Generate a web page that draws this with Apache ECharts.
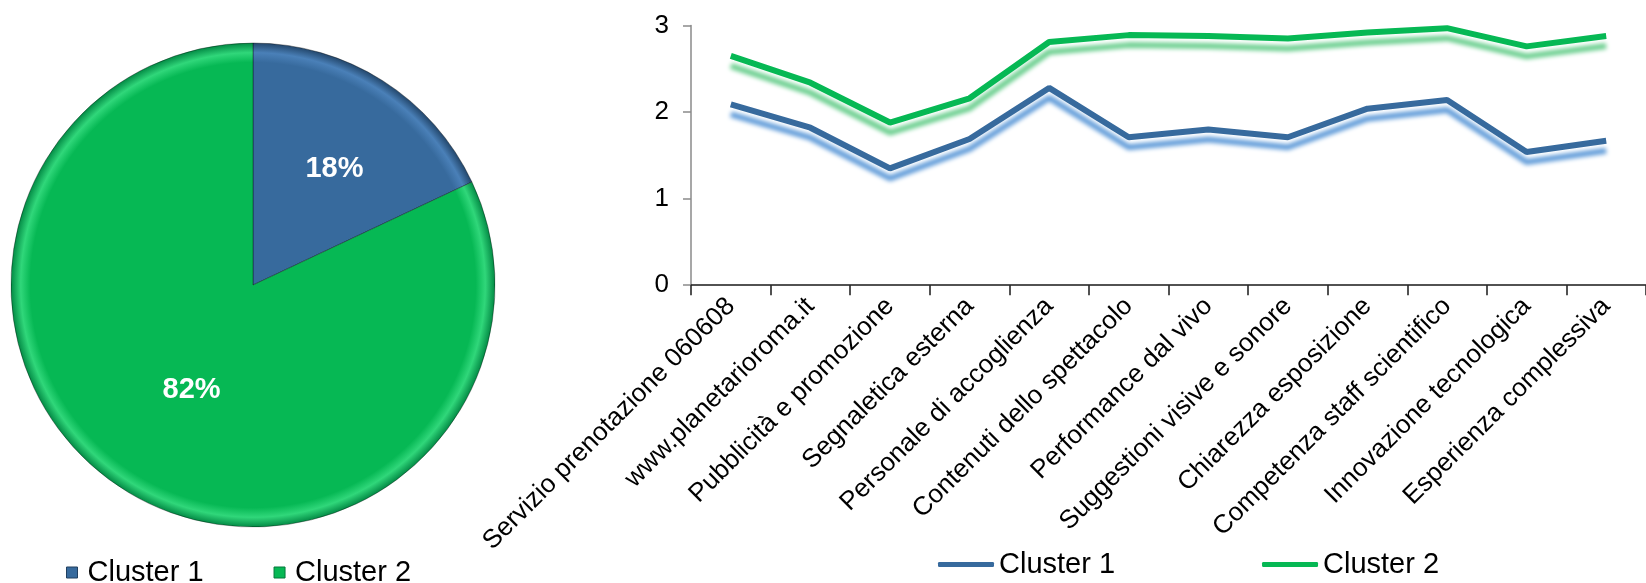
<!DOCTYPE html>
<html>
<head>
<meta charset="utf-8">
<script src="https://cdn.jsdelivr.net/npm/echarts@6/dist/echarts.min.js"></script>
<style>
  html, body { margin: 0; padding: 0; background: #fff; }
  #chart { width: 1646px; height: 583px; }
</style>
</head>
<body>
<div id="chart"></div>
<script>
// Cluster sizes (share of respondents)
const clusterNames = ['Cluster 1', 'Cluster 2'];
const clusterShares = [18, 82];

// Average scores per service aspect
const aspects = [
  'Servizio prenotazione 060608',
  'www.planetarioroma.it',
  'Pubblicità e promozione',
  'Segnaletica esterna',
  'Personale di accoglienza',
  'Contenuti dello spettacolo',
  'Performance dal vivo',
  'Suggestioni visive e sonore',
  'Chiarezza esposizione',
  'Competenza staff scientifico',
  'Innovazione tecnologica',
  'Esperienza complessiva'
];
const cluster1Scores = [2.09, 1.82, 1.35, 1.69, 2.28, 1.71, 1.80, 1.71, 2.04, 2.14, 1.54, 1.67];
const cluster2Scores = [2.65, 2.34, 1.88, 2.16, 2.81, 2.89, 2.88, 2.85, 2.92, 2.97, 2.76, 2.88];
const scoreTicks = { min: 0, max: 3, interval: 1 };

const FONT = '"Liberation Sans", Arial, sans-serif';
const BLUE = '#376A9D';
const GREEN = '#06B854';

const chart = echarts.init(document.getElementById('chart'), null, { renderer: 'canvas' });

// Pie geometry
const pieCenter = [253, 285];
const pieRadius = 242;

function bevel(base, light, dark) {
  return new echarts.graphic.RadialGradient(pieCenter[0], pieCenter[1], pieRadius, [
    { offset: 0, color: base },
    { offset: 0.92, color: base },
    { offset: 0.96, color: light },
    { offset: 1, color: dark }
  ], true);
}

const pieColors = [
  bevel(BLUE, '#4a80b8', '#23476c'),
  bevel(GREEN, '#30d77a', '#038a45')
];

chart.setOption({
  animation: false,
  backgroundColor: '#ffffff',
  textStyle: { fontFamily: FONT },
  legend: [
    {
      left: 66,
      top: 558,
      padding: 0,
      itemWidth: 11,
      itemHeight: 11,
      itemGap: 70,
      textStyle: { fontFamily: FONT, fontSize: 29, color: '#000', lineHeight: 29, padding: [0, 0, 0, 5] },
      data: [
        { name: clusterNames[0], icon: 'rect', itemStyle: { color: BLUE, borderColor: '#203f5f', borderWidth: 1 } },
        { name: clusterNames[1], icon: 'rect', itemStyle: { color: GREEN, borderColor: '#03783a', borderWidth: 1 } }
      ]
    },
    {
      left: 938,
      top: 550,
      padding: 0,
      itemWidth: 56,
      itemHeight: 5,
      itemGap: 147,
      textStyle: { fontFamily: FONT, fontSize: 29, color: '#000', lineHeight: 29 },
      data: [
        { name: clusterNames[0], icon: 'roundRect', itemStyle: { color: BLUE, shadowBlur: 0, shadowOffsetY: 0, borderWidth: 0 } },
        { name: clusterNames[1], icon: 'roundRect', itemStyle: { color: GREEN, shadowBlur: 0, shadowOffsetY: 0, borderWidth: 0 } }
      ]
    }
  ],
  grid: { left: 691, right: -10, top: 25.6, bottom: 297.8, containLabel: false },
  xAxis: {
    type: 'category',
    data: aspects,
    boundaryGap: true,
    axisLine: { lineStyle: { color: '#1a1a1a', width: 1.5 } },
    axisTick: { show: true, length: 10, lineStyle: { color: '#1a1a1a', width: 1.5 } },
    axisLabel: {
      interval: 0,
      rotate: 45,
      margin: 17,
      fontFamily: FONT,
      fontSize: 26,
      color: '#000'
    },
    splitLine: { show: false }
  },
  yAxis: {
    type: 'value',
    min: scoreTicks.min,
    max: scoreTicks.max,
    interval: scoreTicks.interval,
    axisLine: { show: true, lineStyle: { color: '#8a8a8a', width: 1.5 } },
    axisTick: { show: true, length: 8, lineStyle: { color: '#8a8a8a', width: 1.5 } },
    axisLabel: { margin: 22, fontFamily: FONT, fontSize: 26, color: '#000' },
    splitLine: { show: false }
  },
  series: [
    {
      type: 'pie',
      name: 'Cluster',
      center: pieCenter,
      radius: pieRadius,
      startAngle: 90,
      clockwise: true,
      silent: true,
      label: {
        show: true,
        position: 'inside',
        formatter: '{d}%',
        fontFamily: FONT,
        fontSize: 29,
        fontWeight: 'bold',
        color: '#fff'
      },
      labelLine: { show: false },
      itemStyle: { borderColor: 'rgba(0,0,0,0.35)', borderWidth: 1 },
      data: clusterNames.map((n, i) => ({
        name: n,
        value: clusterShares[i],
        itemStyle: { color: pieColors[i] },
        label: i === 0 ? { offset: [15, -11] } : { offset: [5, 0] }
      }))
    },
    {
      type: 'line',
      name: clusterNames[0],
      data: cluster1Scores,
      symbol: 'none',
      lineStyle: {
        color: BLUE,
        width: 6,
        shadowColor: 'rgba(100,158,218,1)',
        shadowBlur: 4,
        shadowOffsetY: 10
      },
      itemStyle: { color: BLUE }
    },
    {
      type: 'line',
      name: clusterNames[1],
      data: cluster2Scores,
      symbol: 'none',
      lineStyle: {
        color: GREEN,
        width: 6,
        shadowColor: 'rgba(110,208,145,1)',
        shadowBlur: 4,
        shadowOffsetY: 10
      },
      itemStyle: { color: GREEN }
    }
  ]
});
</script>
</body>
</html>
